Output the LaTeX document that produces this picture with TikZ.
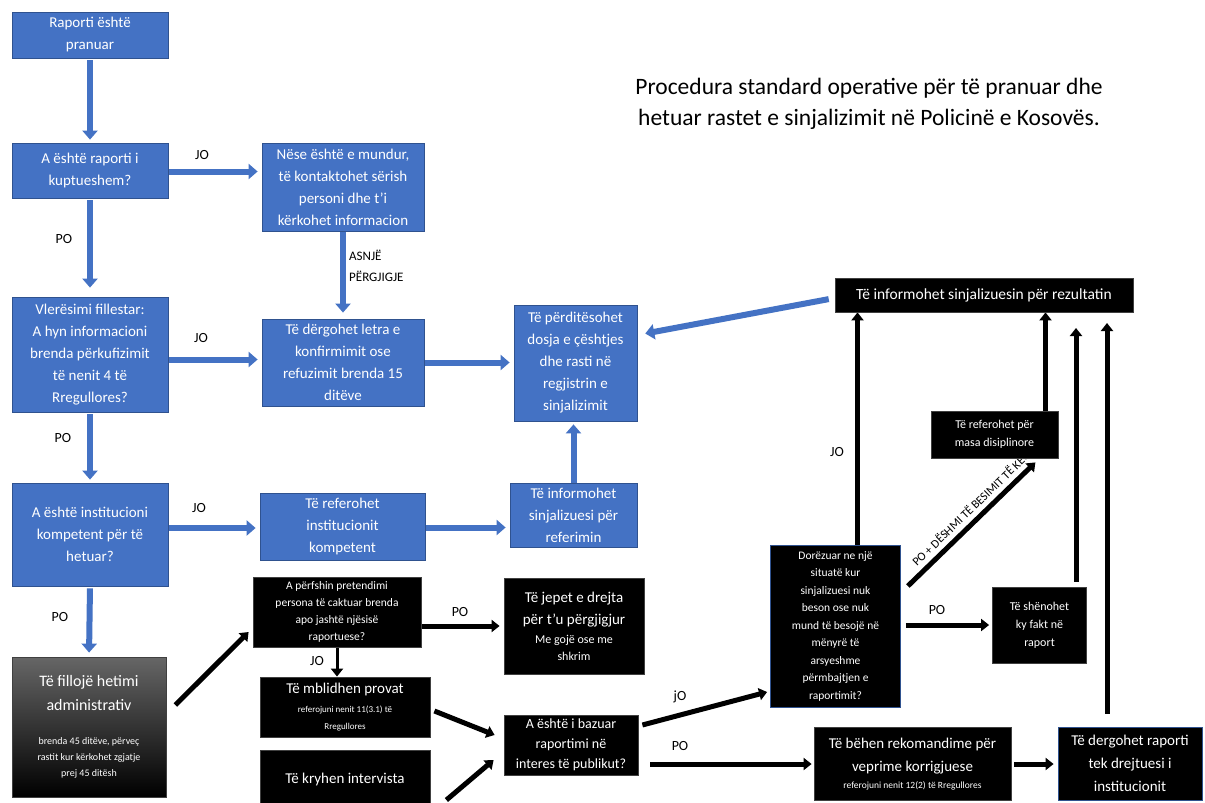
\documentclass[tikz,border=0pt]{standalone}
\usepackage{fontspec}
\setmainfont{Carlito}
\usetikzlibrary{arrows.meta}
\definecolor{bfill}{HTML}{4472C4}
\definecolor{bdraw}{HTML}{2F528F}
\pgfdeclarelayer{bg}
\pgfdeclarelayer{paper}
\pgfsetlayers{paper,bg,main}
\newcommand\fsA{\fontsize{10}{16}\selectfont}
\newcommand\fsB{\fontsize{12}{17}\selectfont}
\newcommand\fsC{\fontsize{9}{14}\selectfont}
\newcommand\fsD{\fontsize{9.5}{14}\selectfont}
\begin{document}
\begin{tikzpicture}[x=1pt,y=-1pt,
 bbox/.style={draw=bdraw, fill=bfill, line width=0.8pt, text=white, align=center, inner sep=2pt, font=\fontsize{15}{22}\selectfont},
 kbox/.style={draw=black!75, fill=black, line width=0.8pt, text=white, align=center, inner sep=2pt},
 barr/.style={draw=bfill, line width=6pt, -{Triangle[width=15pt,length=9pt]}},
 karr/.style={draw=black, line width=5pt, -{Triangle[width=12pt,length=8pt]}},
 lab/.style={font=\fontsize{14}{18}\selectfont, text=black, inner sep=1pt}
]
\useasboundingbox (0,0) rectangle (1205,803);
\begin{pgfonlayer}{paper}
\fill[white] (0,0) rectangle (1205,803);
\end{pgfonlayer}

% title
\node[align=center, font=\fontsize{23.5}{31}\selectfont] (title) at (869,104) {Procedura standard operative për të pranuar dhe\\hetuar rastet e sinjalizimit në Policinë e Kosovës.};

% blue boxes
\node[bbox, minimum width=156pt, minimum height=46pt] (b1) at (90,35) {Raporti është\\pranuar};
\node[bbox, minimum width=156pt, minimum height=55pt] (b2) at (90,170.5) {A është raporti i\\kuptueshem?};
\node[bbox, minimum width=162pt, minimum height=88pt] (b3) at (343,187) {Nëse është e mundur,\\të kontaktohet sërish\\personi dhe t’i\\kërkohet informacion};
\node[bbox, minimum width=156pt, minimum height=115pt] (b4) at (90,354.5) {Vlerësimi fillestar:\\A hyn informacioni\\brenda përkufizimit\\të nenit 4 të\\Rregullores?};
\node[bbox, minimum width=162pt, minimum height=87pt] (b5) at (343,362.5) {Të dërgohet letra e\\konfirmimit ose\\refuzimit brenda 15\\ditëve};
\node[bbox, minimum width=123pt, minimum height=116pt] (b6) at (575.5,363) {Të përditësohet\\dosja e çështjes\\dhe rasti në\\regjistrin e\\sinjalizimit};
\node[bbox, minimum width=156pt, minimum height=103pt] (b7) at (90,534.5) {A është institucioni\\kompetent për të\\hetuar?};
\node[bbox, minimum width=165pt, minimum height=67pt] (b8) at (342.5,526.5) {Të referohet\\institucionit\\kompetent};
\node[bbox, minimum width=127pt, minimum height=64pt] (b9) at (573.5,515) {Të informohet\\sinjalizuesi për\\referimin};

% black boxes
\node[kbox, top color=black!60, middle color=black, bottom color=black, minimum width=154pt, minimum height=140pt, font=\fontsize{16}{24}\selectfont] (b10) at (89,727) {Të fillojë hetimi\\administrativ\\[10pt]\fsA brenda 45 ditëve, përveç\\[-8pt]\fsA rastit kur kërkohet zgjatje\\[-8pt]\fsA prej 45 ditësh};
\node[kbox, minimum width=168pt, minimum height=70pt, font=\fontsize{11.5}{17}\selectfont] (b11) at (337,612) {A përfshin pretendimi\\persona të caktuar brenda\\apo jashtë njësisë\\raportuese?};
\node[kbox, minimum width=140pt, minimum height=96pt, font=\fontsize{15}{22}\selectfont] (b12) at (574,626) {Të jepet e drejta\\për t’u përgjigjur\\[-3pt]\fsB Me gojë ose me\\[-5pt]\fsB shkrim};
\node[kbox, minimum width=170pt, minimum height=60pt, font=\fontsize{15}{19}\selectfont] (b13) at (345,707) {Të mblidhen provat\\\fsC referojuni nenit 11(3.1) të\\[-2pt]\fsC Rregullores};
\node[kbox, minimum width=170pt, minimum height=58pt, font=\fontsize{15}{20}\selectfont] (b14) at (345,779) {Të kryhen intervista};
\node[kbox, minimum width=134pt, minimum height=60pt, font=\fontsize{14}{20}\selectfont] (b15) at (571,745) {A është i bazuar\\raportimi në\\interes të publikut?};
\node[kbox, draw=bdraw, minimum width=130pt, minimum height=162pt, font=\fontsize{11.5}{17.5}\selectfont] (b16) at (835.5,626) {Dorëzuar ne një\\situatë kur\\sinjalizuesi nuk\\beson ose nuk\\mund të besojë në\\mënyrë të\\arsyeshme\\përmbajtjen e\\raportimit?};
\node[kbox, minimum width=298pt, minimum height=34pt, font=\fontsize{15.5}{18}\selectfont] (b17) at (984,295) {Të informohet sinjalizuesin për rezultatin};
\node[kbox, minimum width=127pt, minimum height=47pt, font=\fontsize{12}{18}\selectfont] (b18) at (994.5,434.5) {Të referohet për\\masa disiplinore};
\node[kbox, minimum width=94pt, minimum height=76pt, font=\fontsize{12}{18}\selectfont] (b19) at (1039.5,625) {Të shënohet\\ky fakt në\\raport};
\node[kbox, minimum width=197pt, minimum height=73pt, font=\fontsize{15}{23}\selectfont] (b20) at (912.5,764) {Të bëhen rekomandime për\\veprime korrigjuese\\[-6pt]\fsD referojuni nenit 12(2) të Rregullores};
\node[kbox, draw=bdraw, minimum width=144pt, minimum height=73pt, font=\fontsize{15}{23}\selectfont] (b21) at (1130,763.5) {Të dergohet raporti\\tek drejtuesi i\\institucionit};

\coordinate (u1) at (1076,328);
\coordinate (u2) at (1107,323);

\begin{pgfonlayer}{bg}
% blue connectors
\draw[barr, shorten <=2pt, shorten >=3pt] (b1.south) -- (b2.north);
\draw[barr, shorten >=4pt] ([yshift=-1pt]b2.east) -- ([yshift=-1pt]b2.east -| b3.west);
\draw[barr, shorten <=2pt, shorten >=9pt] (b2.south) -- (b4.north);
\draw[barr, shorten >=6pt] (b3.south) -- (b5.north);
\draw[barr, shorten >=4pt] ([yshift=-5pt]b4.east) -- ([yshift=-5pt]b4.east -| b5.west);
\draw[barr, shorten >=4pt] (b5.east) -- (b5.east -| b6.west);
\draw[barr, shorten <=2pt, shorten >=3pt] (b4.south) -- (b7.north);
\draw[barr, shorten >=4pt] ([yshift=6.5pt]b7.east) -- ([yshift=6.5pt]b7.east -| b8.west);
\draw[barr, shorten >=4pt] ([yshift=-1pt]b8.east) -- ([yshift=-1pt]b8.east -| b9.west);
\draw[barr, shorten >=3pt] (b9.north) -- (b9.north |- b6.south);
\draw[barr, shorten <=6pt, shorten >=8pt] ([yshift=-3pt]b17.west) -- ([yshift=28pt]b6.east);
\draw[barr, shorten <=2pt, shorten >=4pt] (b7.south) -- (b10.north);

% black connectors
\draw[karr] ([shift={(9pt,22pt)}]b10.east) -- ([yshift=-20pt,xshift=-4pt]b11.west);
\draw[karr] (b12.west -| b11.east) -- ([xshift=-4pt]b12.west);
\draw[karr, line width=3pt] (b11.south) -- (b11.south |- b13.north);
\draw[karr] ([shift={(4pt,-4pt)}]b13.east) -- ([shift={(-9pt,10pt)}]b15.west);
\draw[karr] ([shift={(16pt,-21pt)}]b14.east) -- ([shift={(-10pt,-15pt)}]b15.west);
\draw[karr] ([shift={(4pt,20pt)}]b15.east) -- ([shift={(-3pt,-66pt)}]b16.west);
\draw[karr] ([xshift=12pt]b20.west -| b15.east) -- ([xshift=-2pt]b20.west);
\draw[karr] ([xshift=22pt]b16.north) -- ([xshift=22pt]b16.north |- b17.south);
\draw[karr] ([shift={(7pt,40pt)}]b16.east) -- node[sloped, above=0pt, pos=0.56, font=\fontsize{12}{14}\selectfont] (dl) {PO + DËSHMI TË BESIMIT TË KEQ} ([shift={(-23pt,-4pt)}]b18.south east);
\draw[karr] ([xshift=51pt]b18.north) -- ([xshift=51pt]b18.north |- b17.south);
\draw[karr] ([xshift=5pt]b19.west -| b16.east) -- ([xshift=-3pt]b19.west);
\draw[karr, shorten <=5pt] (b19.north -| u1) -- (u1);
\draw[karr, shorten <=13pt] (b21.north -| u2) -- (u2);
\draw[karr, shorten <=3pt, shorten >=4pt] (b20.east) -- (b20.east -| b21.west);
\end{pgfonlayer}

% labels
\node[lab] (l1) at (202,155) {JO};
\node[lab] (l2) at (64,239) {PO};
\node[lab, anchor=west, align=left, font=\fontsize{13}{21}\selectfont] (l3) at (348,266) {ASNJË\\PËRGJIGJE};
\node[lab] (l4) at (201,338) {JO};
\node[lab] (l5) at (63,438) {PO};
\node[lab] (l6) at (199,508) {JO};
\node[lab] (l7) at (60,617) {PO};
\node[lab] (l8) at (460,612) {PO};
\node[lab] (l9) at (317,661) {JO};
\node[lab] (l10) at (680,697) {jO};
\node[lab] (l11) at (680,746) {PO};
\node[lab] (l12) at (837,452) {JO};
\node[lab] (l13) at (937,610) {PO};
\end{tikzpicture}
\end{document}
